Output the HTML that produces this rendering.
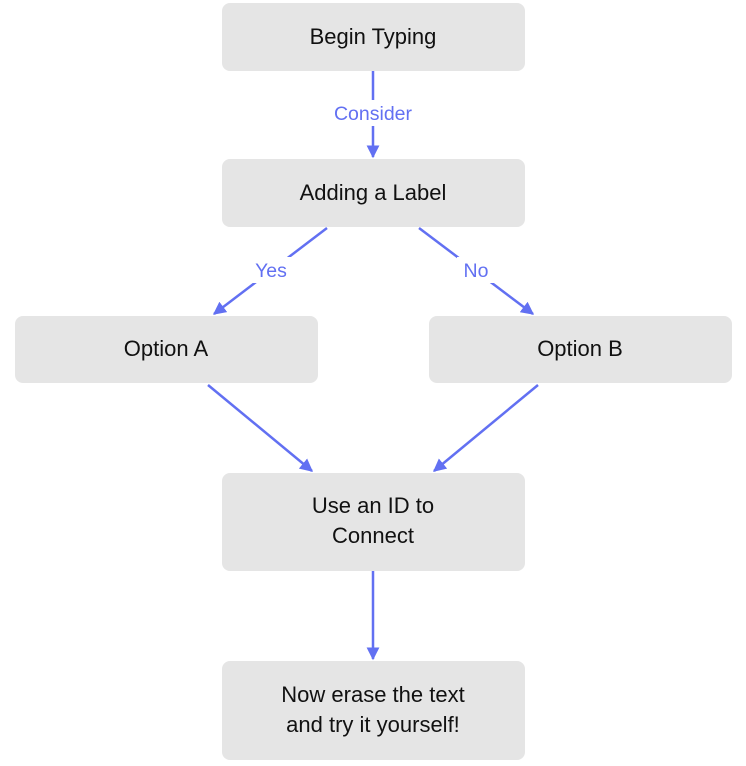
<!DOCTYPE html>
<html><head><style>
body{margin:0;background:#fff;width:746px;height:766px;overflow:hidden}
svg{display:block}
text{font-family:"Liberation Sans",sans-serif}
</style></head><body>
<svg width="746" height="766" viewBox="0 0 746 766">
<defs><marker id="a" viewBox="0 0 10 10" refX="9" refY="5" markerWidth="13" markerHeight="13" markerUnits="userSpaceOnUse" orient="auto"><path d="M0,0L10,5L0,10z" fill="#6270f2"/></marker></defs>
<g fill="#e5e5e5">
<rect x="222" y="3" width="303" height="68" rx="8"/>
<rect x="222" y="159" width="303" height="68" rx="8"/>
<rect x="15" y="316" width="303" height="67" rx="8"/>
<rect x="429" y="316" width="303" height="67" rx="8"/>
<rect x="222" y="473" width="303" height="98" rx="8"/>
<rect x="222" y="661" width="303" height="99" rx="8"/>
</g>
<g stroke="#6270f2" stroke-width="2.5" fill="none" marker-end="url(#a)">
<line x1="373" y1="71" x2="373" y2="157"/>
<line x1="327" y1="228" x2="214" y2="314"/>
<line x1="419" y1="228" x2="533" y2="314"/>
<line x1="208" y1="385" x2="312" y2="471"/>
<line x1="538" y1="385" x2="434" y2="471"/>
<line x1="373" y1="571" x2="373" y2="659"/>
</g>
<g fill="#fff">
<rect x="330" y="100" width="86" height="26"/>
<rect x="250" y="257" width="44" height="26"/>
<rect x="457" y="257" width="38" height="26"/>
</g>
<g fill="#6270f2" font-size="19.5" text-anchor="middle">
<text x="373" y="120">Consider</text>
<text x="271" y="277">Yes</text>
<text x="476" y="277">No</text>
</g>
<g fill="#111" font-size="22" text-anchor="middle">
<text x="373" y="44">Begin Typing</text>
<text x="373" y="200">Adding a Label</text>
<text x="166" y="356">Option A</text>
<text x="580" y="356">Option B</text>
<text x="373" y="513">Use an ID to</text>
<text x="373" y="543">Connect</text>
<text x="373" y="702">Now erase the text</text>
<text x="373" y="732">and try it yourself!</text>
</g>
</svg>
</body></html>
